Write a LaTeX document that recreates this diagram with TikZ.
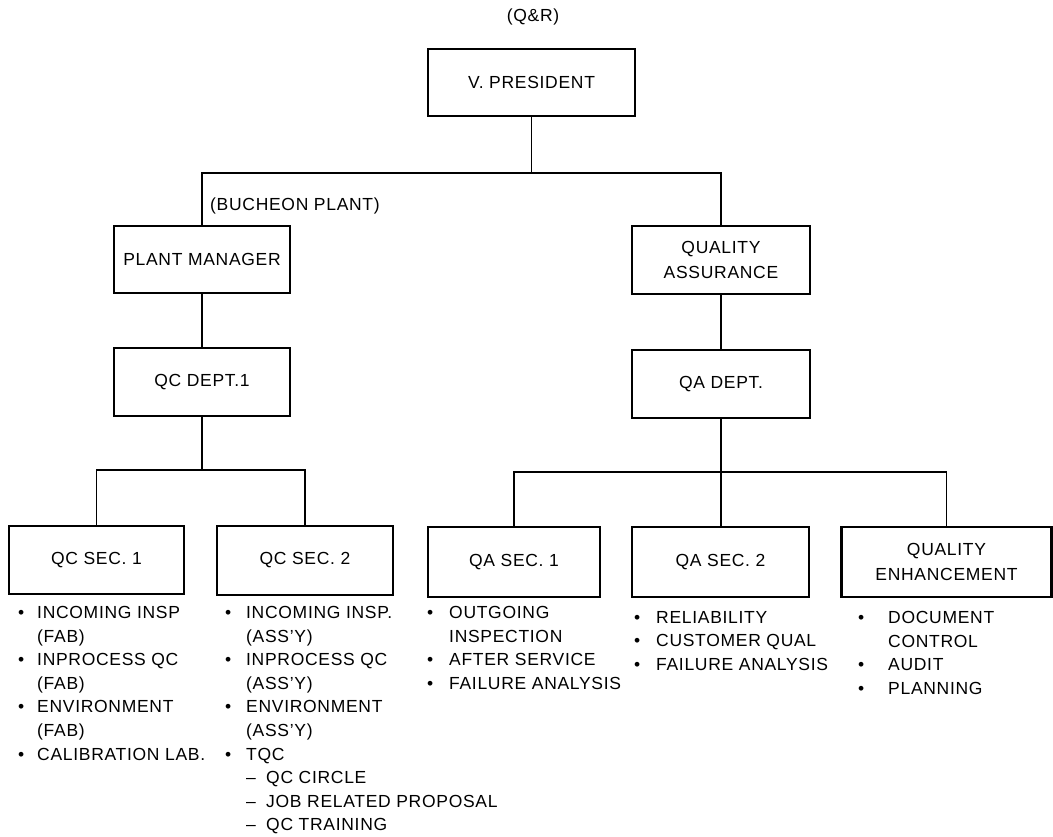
\documentclass[tikz,border=0pt]{standalone}
\usepackage{fontspec}
\setmainfont{Liberation Sans}[LetterSpace=4]
\newcommand{\bu}[1]{\makebox[#1][l]{•}}
\newcommand{\ind}[1]{\hspace*{#1}}
\newcommand{\subit}[1]{\hspace*{#1}\makebox[20pt][l]{–}}
\begin{document}
\begin{tikzpicture}[x=1pt,y=-1pt,
  box/.style={draw, line width=2.8pt, align=center, inner sep=0pt},
  link/.style={line width=1.3pt},
  lbl/.style={inner sep=0pt},
  list/.style={anchor=north west, align=left, inner sep=0pt, font=\fontsize{17.5}{23.6}\selectfont},
  font=\fontsize{17.5}{25}\selectfont]
\useasboundingbox (0,0) rectangle (1053,836);

% labels
\node[lbl] (qr) at (533,17) {(Q\&R)};
\node[lbl, anchor=west] (bp) at (210,206) {(BUCHEON PLANT)};

% boxes
\node[box, minimum width=207pt, minimum height=67pt] (vp) at (531.5,82.5) {V. PRESIDENT};
\node[box, minimum width=176pt, minimum height=67pt] (pm) at (202,259.5) {PLANT MANAGER};
\node[box, minimum width=178pt, minimum height=68pt] (qa) at (721,260) {QUALITY\\ASSURANCE};
\node[box, minimum width=176pt, minimum height=68pt] (qcd) at (202,382) {QC DEPT.1};
\node[box, minimum width=178pt, minimum height=68pt] (qad) at (721,384) {QA DEPT.};
\node[box, minimum width=175pt, minimum height=68pt] (qcs1) at (96.5,560) {QC SEC. 1};
\node[box, minimum width=176pt, minimum height=69pt] (qcs2) at (305,560.5) {QC SEC. 2};
\node[box, minimum width=172pt, minimum height=70pt] (qas1) at (514,562) {QA SEC. 1};
\node[box, minimum width=177pt, minimum height=70pt] (qas2) at (720.5,562) {QA SEC. 2};
\node[box, minimum width=210pt, minimum height=70pt] (qe) at (946.5,562) {QUALITY\\ENHANCEMENT};

% connectors
\coordinate (t) at (0,173);
\coordinate (m1) at (0,470);
\coordinate (m2) at (0,472);
\draw[link] (vp.south) -- (vp.south |- t);
\draw[link] (pm.north) -- (pm.north |- t) -- (qa.north |- t) -- (qa.north);
\draw[link] (pm.south) -- (qcd.north);
\draw[link] (qa.south) -- (qad.north);
\draw[link] (qcd.south) -- (qcd.south |- m1);
\draw[link] (qcs1.north) -- (qcs1.north |- m1) -- (qcs2.north |- m1) -- (qcs2.north);
\draw[link] (qad.south) -- (qad.south |- qas2.north);
\draw[link] (qas1.north) -- (qas1.north |- m2) -- (qe.north |- m2) -- (qe.north);

% lists
\node[list] (l1) at (18,606) {\bu{19pt}INCOMING INSP\\\ind{19pt}(FAB)\\\bu{19pt}INPROCESS QC\\\ind{19pt}(FAB)\\\bu{19pt}ENVIRONMENT\\\ind{19pt}(FAB)\\\bu{19pt}CALIBRATION LAB.};
\node[list] (l2) at (225,606) {\bu{21pt}INCOMING INSP.\\\ind{21pt}(ASS'Y)\\\bu{21pt}INPROCESS QC\\\ind{21pt}(ASS'Y)\\\bu{21pt}ENVIRONMENT\\\ind{21pt}(ASS'Y)\\\bu{21pt}TQC\\\subit{21pt}QC CIRCLE\\\subit{21pt}JOB RELATED PROPOSAL\\\subit{21pt}QC TRAINING};
\node[list] (l3) at (427,606) {\bu{22pt}OUTGOING\\\ind{22pt}INSPECTION\\\bu{22pt}AFTER SERVICE\\\bu{22pt}FAILURE ANALYSIS};
\node[list] (l4) at (634,611) {\bu{22pt}RELIABILITY\\\bu{22pt}CUSTOMER QUAL\\\bu{22pt}FAILURE ANALYSIS};
\node[list] (l5) at (858,611) {\bu{30pt}DOCUMENT\\\ind{30pt}CONTROL\\\bu{30pt}AUDIT\\\bu{30pt}PLANNING};
\end{tikzpicture}
\end{document}
